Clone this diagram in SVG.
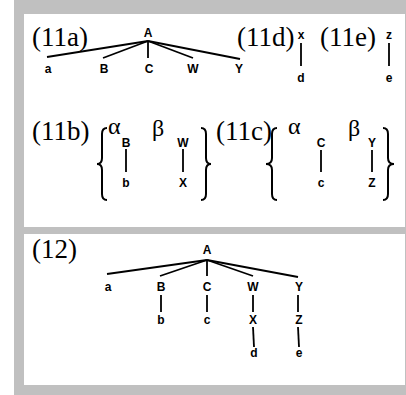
<svg xmlns="http://www.w3.org/2000/svg" width="406" height="395" viewBox="0 0 406 395">
<style>
.bg{fill:#c0c0c0}
.pn{fill:#ffffff}
.big{font-family:"Liberation Serif","Times New Roman",serif;font-size:27px;fill:#000}
.gk{font-family:"Liberation Serif","Times New Roman",serif;font-size:24px;fill:#000}
.lb{font-family:"Liberation Sans",Arial,sans-serif;font-size:12px;font-weight:bold;fill:#000;text-anchor:middle}
.ln{stroke:#000;stroke-width:1.8;fill:none;stroke-linecap:butt}
.br{stroke:#000;stroke-width:2;fill:none}
</style>
<rect class="bg" x="14" y="0" width="392" height="395"/>
<rect class="pn" x="24" y="14" width="381" height="213"/>
<rect class="pn" x="24" y="234" width="381" height="151"/>

<g id="titles">
<text class="big" x="32" y="46">(11a)</text>
<text class="big" x="237" y="46">(11d)</text>
<text class="big" x="320" y="46">(11e)</text>
<text class="big" x="32" y="140">(11b)</text>
<text class="big" x="216" y="140">(11c)</text>
<text class="big" x="32" y="258">(12)</text>
</g>

<g id="braces">
<path class="br" d="M107,128 Q102,128 102,134 L102,158 Q102,164 97,164 Q102,164 102,170 L102,194 Q102,200 107,200"/>
<path class="br" d="M201,128 Q206,128 206,134 L206,158 Q206,164 211,164 Q206,164 206,170 L206,194 Q206,200 201,200"/>
<path class="br" d="M277,128 Q272,128 272,134 L272,158 Q272,164 266,164 Q272,164 272,170 L272,194 Q272,200 277,200"/>
<path class="br" d="M383,128 Q388,128 388,134 L388,158 Q388,164 394,164 Q388,164 388,170 L388,194 Q388,200 383,200"/>
</g>

<g id="greek">
<text class="gk" x="108" y="134">α</text>
<text class="gk" x="152" y="136">β</text>
<text class="gk" x="288" y="134">α</text>
<text class="gk" x="348" y="136">β</text>
</g>

<g id="connectors">
<line class="ln" x1="148" y1="41" x2="47" y2="57"/>
<line class="ln" x1="148" y1="41" x2="103" y2="58"/>
<line class="ln" x1="148" y1="41" x2="148" y2="58"/>
<line class="ln" x1="148" y1="41" x2="193" y2="58"/>
<line class="ln" x1="148" y1="41" x2="240" y2="59"/>
<line class="ln" x1="301" y1="43" x2="301" y2="66"/>
<line class="ln" x1="389" y1="43" x2="389" y2="66"/>
<line class="ln" x1="126" y1="149" x2="126" y2="172"/>
<line class="ln" x1="183" y1="149" x2="183" y2="172"/>
<line class="ln" x1="321" y1="150" x2="321" y2="172"/>
<line class="ln" x1="372" y1="150" x2="372" y2="172"/>
<line class="ln" x1="207" y1="260" x2="107" y2="274"/>
<line class="ln" x1="207" y1="260" x2="160" y2="276"/>
<line class="ln" x1="207" y1="260" x2="207" y2="276"/>
<line class="ln" x1="207" y1="260" x2="253" y2="276"/>
<line class="ln" x1="207" y1="260" x2="298" y2="277"/>
<line class="ln" x1="161" y1="295" x2="161" y2="312"/>
<line class="ln" x1="207" y1="295" x2="207" y2="312"/>
<line class="ln" x1="253" y1="295" x2="253" y2="312"/>
<line class="ln" x1="298" y1="295" x2="298" y2="312"/>
<line class="ln" x1="253" y1="327" x2="254" y2="347"/>
<line class="ln" x1="298" y1="327" x2="299" y2="347"/>
</g>

<g id="n11a-A"><text class="lb" x="148" y="37">A</text></g>
<g id="n11a-a"><text class="lb" x="48" y="73">a</text></g>
<g id="n11a-B"><text class="lb" x="104" y="73">B</text></g>
<g id="n11a-C"><text class="lb" x="149" y="73">C</text></g>
<g id="n11a-W"><text class="lb" x="193" y="73">W</text></g>
<g id="n11a-Y"><text class="lb" x="239" y="73">Y</text></g>
<g id="n11d-x"><text class="lb" x="301" y="39">x</text></g>
<g id="n11d-d"><text class="lb" x="301" y="82">d</text></g>
<g id="n11e-z"><text class="lb" x="389" y="39">z</text></g>
<g id="n11e-e"><text class="lb" x="389" y="82">e</text></g>

<g id="n11b-B"><text class="lb" x="126" y="147">B</text></g>
<g id="n11b-b"><text class="lb" x="126" y="187">b</text></g>
<g id="n11b-W"><text class="lb" x="183" y="147">W</text></g>
<g id="n11b-X"><text class="lb" x="183" y="187">X</text></g>
<g id="n11c-C"><text class="lb" x="321" y="147">C</text></g>
<g id="n11c-c"><text class="lb" x="321" y="187">c</text></g>
<g id="n11c-Y"><text class="lb" x="372" y="147">Y</text></g>
<g id="n11c-Z"><text class="lb" x="372" y="187">Z</text></g>

<g id="n12-A"><text class="lb" x="207" y="254">A</text></g>
<g id="n12-a"><text class="lb" x="108" y="291">a</text></g>
<g id="n12-B"><text class="lb" x="161" y="291">B</text></g>
<g id="n12-C"><text class="lb" x="207" y="291">C</text></g>
<g id="n12-W"><text class="lb" x="253" y="291">W</text></g>
<g id="n12-Y"><text class="lb" x="299" y="291">Y</text></g>
<g id="n12-b"><text class="lb" x="161" y="324">b</text></g>
<g id="n12-c"><text class="lb" x="207" y="324">c</text></g>
<g id="n12-X"><text class="lb" x="253" y="324">X</text></g>
<g id="n12-Z"><text class="lb" x="299" y="324">Z</text></g>
<g id="n12-d"><text class="lb" x="254" y="357">d</text></g>
<g id="n12-e"><text class="lb" x="299" y="357">e</text></g>
</svg>
